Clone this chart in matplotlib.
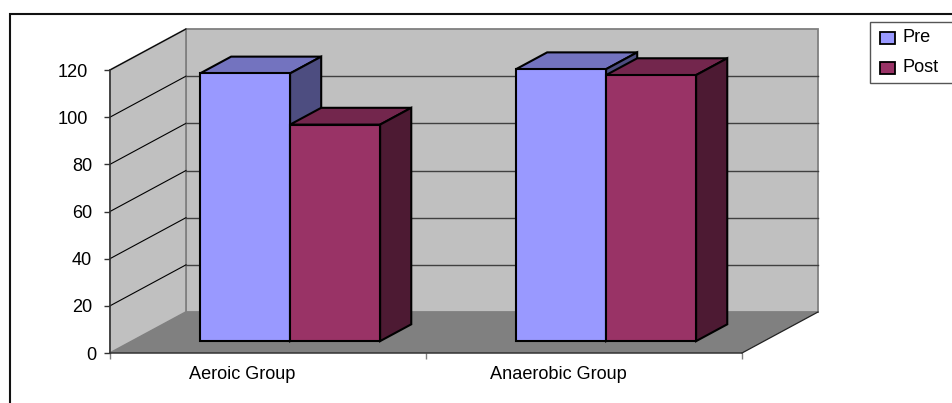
import matplotlib
matplotlib.use("Agg")
import matplotlib.pyplot as plt
from matplotlib.legend_handler import HandlerPatch
from matplotlib.patches import Patch, Rectangle

plt.rcParams["font.family"] = ["Liberation Sans", "DejaVu Sans"]

categories = ["Aeroic Group", "Anaerobic Group"]
series_names = ["Pre", "Post"]
pre_values = [113.5, 115.3]
post_values = [91.8, 112.8]
y_ticks = [0, 20, 40, 60, 80, 100, 120]

PRE_COLORS = ("#9999FF", "#7373BF", "#4D4D80")
POST_COLORS = ("#993366", "#73264D", "#4D1A33")
WALL = "#C0C0C0"
FLOOR = "#808080"
EDGE = "#808080"

W, H = 953, 403
X0, X1, Y0, Y120 = 110, 742, 353, 70

# Oblique projection: full depth shifts points right and up, in data units.
DEPTH_X = 76 / 316
DEPTH_Y = 41 * 120 / (Y0 - Y120)
BAR_WIDTH = 0.285
BAR_START = 0.215
BAR_D0, BAR_D1 = 0.29, 0.70
LABEL_SHIFT = 26 / 316


def project(x, y, d):
    return x + d * DEPTH_X, y + d * DEPTH_Y


fig = plt.figure(figsize=(W / 100, H / 100), dpi=100, facecolor="white")
ax = fig.add_axes([X0 / W, 1 - Y0 / H, (X1 - X0) / W, (Y0 - Y120) / H])
ax.set_xlim(0, len(categories))
ax.set_ylim(0, y_ticks[-1])
ax.set_facecolor("none")
for side in ("top", "right"):
    ax.spines[side].set_visible(False)
for side in ("left", "bottom"):
    ax.spines[side].set_color("#333333")
    ax.spines[side].set_linewidth(1.1)
    ax.spines[side].set_zorder(20)


def face(points, color, z, edge="black", lw=1.5):
    xs, ys = zip(*points)
    ax.fill(xs, ys, facecolor=color, edgecolor=edge, linewidth=lw, zorder=z,
            clip_on=False, joinstyle="miter")


xmax, ymax = len(categories), y_ticks[-1]

# Walls and floor
face([project(0, 0, 1), project(xmax, 0, 1), project(xmax, ymax, 1), project(0, ymax, 1)],
     WALL, 1, EDGE, 1.3)
face([project(0, 0, 0), project(0, 0, 1), project(0, ymax, 1), project(0, ymax, 0)],
     WALL, 1, EDGE, 1.3)
face([project(0, 0, 0), project(xmax, 0, 0), project(xmax, 0, 1), project(0, 0, 1)],
     FLOOR, 2, "none", 0)

# Floor front-right edge
fx, fy = zip(project(xmax, 0, 0), project(xmax, 0, 1))
ax.plot(fx, fy, color="#222222", lw=0.9, zorder=3, clip_on=False)

# Gridlines across side wall and back wall
for v in y_ticks[1:]:
    sx, sy = zip(project(0, v, 0), project(0, v, 1))
    ax.plot(sx, sy, color="black", lw=0.8, zorder=3, clip_on=False)
    if v < ymax:
        bx, by = zip(project(0, v, 1), project(xmax, v, 1))
        ax.plot(bx, by, color="#404040", lw=1.0, zorder=3, clip_on=False)

# Bars, Pre first so that Post overlaps its side face
z = 5
for i in range(len(categories)):
    for k, (vals, cols) in enumerate(((pre_values, PRE_COLORS), (post_values, POST_COLORS))):
        left = i + BAR_START + k * BAR_WIDTH
        right = left + BAR_WIDTH
        v = vals[i]
        _, base = project(0, 0, BAR_D0)
        front_top = base + v
        bl = (left + BAR_D0 * DEPTH_X, base)
        br = (right + BAR_D0 * DEPTH_X, base)
        tl = (bl[0], front_top)
        tr = (br[0], front_top)
        shift = lambda p: (p[0] + (BAR_D1 - BAR_D0) * DEPTH_X, p[1] + (BAR_D1 - BAR_D0) * DEPTH_Y)
        face([tl, tr, shift(tr), shift(tl)], cols[1], z)
        face([br, shift(br), shift(tr), tr], cols[2], z)
        face([bl, br, tr, tl], cols[0], z + 1)
        z += 2

# Axis ticks and labels
ax.set_yticks(y_ticks)
ax.set_xticks(range(len(categories) + 1))
ax.set_xticks([i + 0.5 - LABEL_SHIFT for i in range(len(categories))], minor=True)
ax.set_xticklabels([])
ax.set_xticklabels(categories, minor=True, fontsize=13.1)
ax.tick_params(axis="x", which="major", length=4, width=1, color="#808080")
ax.tick_params(axis="x", which="minor", length=0, pad=9.5, labelcolor="black")
ax.tick_params(axis="y", length=4.3, width=1, color="#333333", labelsize=13.1, labelcolor="black")
for tick, v in zip(ax.yaxis.get_major_ticks(), y_ticks):
    tick.set_pad(5.8 if v == 0 else (8.6 if v < 100 else 11.5))


def swatch(legend, orig_handle, xdescent, ydescent, width, height, fontsize):
    # Small square key sitting slightly below the text's centre line
    w, h = 10.8, 8.6
    return Rectangle((-xdescent + 2.6, -ydescent + height / 2 - h / 2 - 1.5), w, h)


# Legend, its box running off the right edge
handles = [Patch(facecolor=PRE_COLORS[0], edgecolor="black", linewidth=1.3, label=series_names[0]),
           Patch(facecolor=POST_COLORS[0], edgecolor="black", linewidth=1.3, label=series_names[1])]
leg = fig.legend(handles=handles, loc="upper left", mode="expand",
                 bbox_to_anchor=(870 / W, 1 - 83 / H, 100 / W, 61 / H),
                 borderaxespad=0, fontsize=13.1, fancybox=False, framealpha=1,
                 edgecolor="#555555", handlelength=1.05, handleheight=0.85,
                 handletextpad=0.36, borderpad=0.35, labelspacing=0.71,
                 handler_map={Patch: HandlerPatch(patch_func=swatch)})
leg.get_frame().set_linewidth(1.0)

# Outer chart frame, cut by the image's right and bottom edges
fig.add_artist(Rectangle((10 / W, -0.1), 1.2, 1.1 - 14 / H, transform=fig.transFigure,
                         facecolor="none", edgecolor="#111111", linewidth=1.5))

fig.savefig("out.png", dpi=100)
